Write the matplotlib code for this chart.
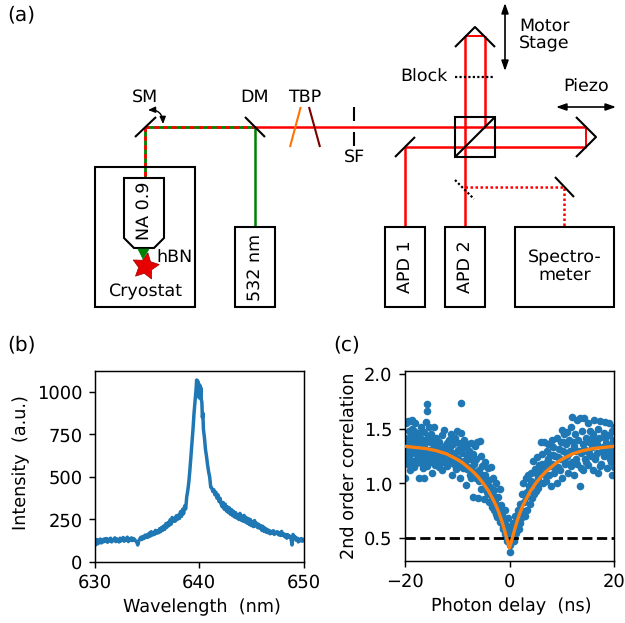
import matplotlib
matplotlib.use("Agg")
import matplotlib.pyplot as plt
from matplotlib.patches import Polygon, Rectangle, FancyArrowPatch

W, H = 625, 623
# ---------- panel (b) data
wl_left = [630.0,630.1,630.2,630.3,630.4,630.5,630.6,630.7,630.8,630.9,
631.0,631.1,631.2,631.3,631.4,631.5,631.6,631.7,631.8,631.9,
632.0,632.1,632.2,632.3,632.4,632.5,632.6,632.7,632.8,632.9,
633.0,633.1,633.2,633.3,633.4,633.5,633.6,633.7,633.8,633.9,
634.0,634.1,634.2,634.3,634.4,634.5,634.6,634.7,634.8,634.9,
635.0,635.1,635.2,635.3,635.4,635.5,635.6,635.7,635.8,635.9,
636.0,636.1,636.2,636.3,636.4,636.5,636.6,636.7,636.8,636.9,
637.0,637.1,637.2,637.3,637.4,637.5,637.6,637.7,637.8,637.9,
638.0,638.1,638.2,638.3,638.4,638.5,638.6,638.7,638.8,638.9,
639.0,639.1,639.2,639.3,639.4,639.5,639.6,639.7,639.75,639.8]
int_left = [128,102,132,108,125,135,112,130,118,136,
122,138,116,134,124,140,118,132,126,142,
120,136,128,118,140,124,134,144,122,138,
130,146,120,136,128,142,126,138,132,124,
118,100,124,136,146,132,150,138,158,144,
160,146,170,152,178,158,174,162,186,168,
184,172,196,178,204,186,212,192,226,204,
232,214,248,222,262,238,256,240,272,250,
276,256,296,268,310,284,330,312,384,420,
470,540,620,700,780,876,950,1020,1070,1030]
wl_right = [639.85,639.9,639.95,640.0,640.05,640.1,640.15,640.2,640.25,640.3,
640.35,640.4,640.5,640.6,640.7,640.8,640.9,641.0,641.1,641.2,
641.3,641.4,641.5,641.6,641.7,641.8,641.9,642.0,642.1,642.2,
642.3,642.4,642.5,642.6,642.7,642.8,642.9,643.0,643.1,643.2,
643.3,643.4,643.5,643.6,643.7,643.8,643.9,644.0,644.1,644.2,
644.3,644.4,644.5,644.6,644.7,644.8,644.9,645.0,645.1,645.2,
645.3,645.4,645.5,645.6,645.7,645.8,645.9,646.0,646.1,646.2,
646.3,646.4,646.5,646.6,646.7,646.8,646.9,647.0,647.1,647.2,
647.3,647.4,647.5,647.6,647.7,647.8,647.9,648.0,648.1,648.2,
648.3,648.4,648.5,648.6,648.7,648.8,648.9,649.0,649.1,649.2,
649.3,649.4,649.5,649.6,649.7,649.8,649.9,650.0]
int_right = [1065,985,1045,965,1040,975,1025,955,940,850,
875,780,730,660,620,570,530,500,440,435,
415,425,395,410,375,395,355,375,340,325,
350,310,340,300,325,290,318,280,308,272,
298,264,290,258,278,250,286,246,270,240,
274,236,262,228,256,220,250,214,238,208,
244,212,228,202,222,198,214,186,210,180,
200,176,192,172,186,166,180,170,184,162,
176,168,178,160,172,156,180,158,166,148,
162,140,160,146,152,138,100,162,142,148,
128,140,118,134,124,138,122,130]

# ---------- panel (c) data
delay = [
-20,-20,-20,-20,-19.8,-19.7,-19.6,-19.5,-19.5,-19.4,
-19.3,-19.2,-19.1,-19,-19,-18.9,-18.8,-18.7,-18.7,-18.6,
-18.5,-18.4,-18.3,-18.2,-18.1,-18,-18,-17.9,-17.8,-17.7,
-17.6,-17.5,-17.4,-17.3,-17.2,-17.1,-17,-17,-16.9,-16.8,
-16.7,-16.6,-16.5,-16.4,-16.4,-16.3,-16.2,-16.1,-16,-15.9,
-15.8,-15.8,-15.7,-15.6,-15.5,-15.4,-15.3,-15.2,-15.1,-15,
-14.9,-14.8,-14.7,-14.6,-14.5,-14.4,-14.3,-14.2,-14.1,-14,
-13.8,-13.6,-13.5,-13.4,-13.2,-13,-12.9,-12.8,-12.6,-12.5,
-12.4,-12.2,-12,-11.9,-11.8,-11.6,-11.4,-11.3,-11.2,-11,
-10.9,-10.8,-10.6,-10.5,-10.4,-10.2,-10,-9.9,-9.8,-9.6,
-9.5,-9.3,-9.2,-9,-8.9,-8.8,-8.6,-8.5,-8.4,-8.2,
-8,-7.9,-7.8,-7.6,-7.5,-7.4,-7.2,-7,-6.9,-6.8,
-6.6,-6.5,-6.4,-6.2,-6,-5.8,-5.6,-5.5,-5.4,-5.2,
-5,-4.8,-4.7,-4.6,-4.4,-4.2,-4,-3.9,-3.8,-3.6,
-3.4,-3.2,-3,-2.9,-2.8,-2.6,-2.4,-2.2,-2,-1.9,
-1.8,-1.6,-1.4,-1.2,-1,-0.9,-0.8,-0.6,-0.4,-0.3,
-0.2,0,0,0.2,0.3,0.4,0.6,0.8,1,1.1,
1.2,1.4,1.6,1.8,2,2.2,2.4,2.5,2.6,2.8,
3,3.1,3.2,3.4,3.6,3.8,4,4.2,4.4,4.5,
4.6,4.8,5,5.2,5.4,5.5,5.6,5.8,6,6.1,
6.2,6.4,6.6,6.8,7,7.1,7.2,7.4,7.6,7.8,
8,8.1,8.2,8.4,8.6,8.8,9,9.1,9.2,9.4,
9.6,9.8,10,10.1,10.2,10.4,10.6,10.8,11,11.1,
11.2,11.4,11.6,11.8,12,12,12.2,12.4,12.6,12.8,
13,13,13.2,13.4,13.5,13.6,13.8,14,14,14.2,
14.4,14.6,14.8,15,15,15.2,15.4,15.6,15.8,16,
16,16.2,16.4,16.6,16.8,17,17,17.2,17.4,17.6,
17.8,18,18,18.2,18.4,18.6,18.8,19,19,19.2,
19.4,19.5,19.6,19.7,19.8,19.9,19.95,20,20,20,
# denser cloud
-19.9,-19.2,-18.6,-18.2,-17.5,-16.9,-16.2,-15.5,-14.8,-14.3,
-13.7,-13.1,-12.7,-12.1,-11.5,-11,-10.3,-9.7,-9.1,-8.7,
-8.1,-7.7,-7.3,-6.7,-6.3,-5.9,-5.3,-4.9,-4.5,-4.1,
-3.7,-3.3,-2.7,-2.5,-2.1,-1.7,-1.3,-1.1,-0.7,-0.5,
0.5,0.7,0.9,1.3,1.5,1.7,2.1,2.7,3.3,3.7,
4.1,4.7,5.1,5.7,6.3,6.7,7.3,7.7,8.3,8.7,
9.3,9.7,10.3,10.7,11.3,11.7,12.3,12.7,13.3,13.7,
14.3,14.7,15.3,15.7,16.3,16.7,17.3,17.7,18.3,18.7]
g2 = [
1.05,1.20,1.30,1.42,1.55,1.37,1.27,1.57,1.41,1.18,
1.48,1.33,1.57,1.38,1.12,1.45,1.28,1.50,1.35,1.58,
1.21,1.42,1.30,1.48,1.36,1.55,1.18,1.27,1.43,1.33,
1.46,1.22,1.38,1.05,1.30,1.42,1.19,1.52,1.28,1.35,
1.25,1.40,1.14,1.33,1.47,1.05,1.22,1.38,1.56,1.29,
1.66,1.73,1.16,1.43,1.31,1.52,1.25,1.38,1.20,1.45,
1.10,1.30,1.40,1.24,1.34,1.52,1.18,1.37,1.28,1.42,
1.22,1.33,1.15,1.38,1.27,1.12,1.44,1.30,1.20,1.49,
1.34,1.25,1.37,1.16,1.29,1.40,1.22,1.33,1.45,1.08,
1.26,1.36,1.18,1.42,1.28,1.13,1.48,1.31,1.22,1.37,
1.05,1.74,1.46,1.28,1.14,1.40,1.20,1.33,0.99,1.25,
1.36,1.15,1.30,1.08,1.22,1.37,1.12,1.27,0.88,1.18,
1.34,1.05,1.22,1.38,0.87,1.12,1.39,1.25,0.95,1.16,
1.03,0.86,1.20,1.08,0.92,1.14,0.83,1.03,0.97,1.15,
0.88,1.05,0.76,0.94,0.83,1.00,0.69,0.88,0.78,0.95,
0.65,0.80,0.71,0.58,0.66,0.76,0.54,0.62,0.47,0.68,
0.55,0.44,0.37,0.60,0.46,0.55,0.64,0.47,0.59,0.70,
0.55,0.63,0.72,0.58,0.81,0.68,0.90,0.75,1.00,0.83,
0.70,1.05,0.88,0.76,1.08,0.94,0.81,1.10,0.87,1.21,
1.00,1.13,0.93,1.24,1.05,0.96,1.17,1.00,1.38,1.10,
1.27,1.00,1.38,1.15,1.02,1.30,1.20,1.36,1.08,1.26,
0.98,1.40,1.18,1.33,1.10,1.25,1.00,1.42,1.15,1.32,
1.22,1.38,1.49,1.05,1.30,1.45,1.18,1.36,1.47,1.25,
1.10,1.40,1.30,1.52,1.61,1.20,1.38,1.08,1.45,1.30,
1.58,1.18,1.40,1.60,0.98,1.28,1.48,1.12,1.36,1.60,
1.22,1.42,1.30,1.55,1.17,1.38,1.48,1.25,1.33,1.12,
1.45,1.58,1.22,1.38,1.28,1.50,1.10,1.42,1.57,1.18,
1.33,1.46,1.25,1.56,1.37,1.14,1.30,1.44,1.55,1.22,
1.35,1.20,1.08,1.48,1.27,1.40,1.15,1.52,1.08,1.30,
1.33,1.24,1.40,1.15,1.26,1.35,1.20,1.30,1.25,1.17,
1.30,1.20,1.25,1.34,1.19,1.28,1.23,1.16,1.33,1.21,
1.13,1.27,1.05,1.20,1.10,1.02,1.08,0.96,1.00,0.90,
0.92,0.78,0.88,0.72,0.74,0.70,0.60,0.62,0.56,0.50,
0.52,0.62,0.50,0.64,0.60,0.76,0.64,0.90,0.92,0.98,
1.02,0.90,1.10,1.12,1.18,1.08,1.22,1.16,1.26,1.14,
1.24,1.12,1.38,1.20,1.28,1.16,1.34,1.22,1.30,1.14,
1.32,1.20,1.28,1.42,1.24,1.36,1.16,1.30,1.42,1.26]
fit_t = [-20,-18,-16,-14,-12,-10,-9,-8,-7,-6,-5,-4,-3,-2.5,-2,-1.5,-1,-0.6,-0.3,0,0.3,0.6,1,1.5,2,2.5,3,4,5,6,7,8,9,10,12,14,16,18,20]
fit_g = [1.34,1.33,1.32,1.30,1.27,1.22,1.19,1.15,1.11,1.06,1.00,0.93,0.84,0.79,0.73,0.66,0.58,0.51,0.46,0.41,0.46,0.51,0.58,0.66,0.73,0.79,0.84,0.93,1.00,1.06,1.11,1.15,1.19,1.22,1.27,1.30,1.32,1.33,1.34]

# ---------- schematic labels
box_labels = ["NA 0.9", "532 nm", "APD 1", "APD 2", "Spectro-\nmeter", "Cryostat"]

BLUE, ORANGE = "#1f77b4", "#ff7f0e"
FS = 12.85
plt.rcParams.update({"font.family": "DejaVu Sans", "font.size": FS,
                     "axes.linewidth": 1.05, "text.hinting": "no_hinting",
                     "xtick.major.size": 4.5, "ytick.major.size": 4.5,
                     "xtick.major.width": 1.05, "ytick.major.width": 1.05,
                     "xtick.major.pad": 4.5, "ytick.major.pad": 4.5})
fig = plt.figure(figsize=(W/100, H/100), dpi=100)

def axrect(l, t, r, b):
    return [l/W, 1-b/H, (r-l)/W, (b-t)/H]

# ---------- schematic (pixel coordinates)
a = fig.add_axes([0, 0, 1, 1])
a.set_xlim(0, W); a.set_ylim(H, 0); a.axis("off")

def ln(xs, ys, c="k", lw=1.6, **k):
    a.plot(xs, ys, color=c, lw=lw, solid_capstyle="butt", **k)

R, G = "#ff0000", "#008000"
# beams
ln([145, 145], [127, 178], G, 2); ln([145, 255], [127, 127], G, 2)
ln([145, 145], [127, 178], R, 2, ls=(0, (1.6, 1.6)))
ln([145, 255], [127, 127], R, 2, ls=(0, (1.6, 1.6)))
ln([255, 255], [127, 227], G, 1.8)
ln([255, 586], [127, 127], R, 1.8)
ln([405, 586], [147, 147], R, 1.8)
ln([586, 586], [127, 147], R, 1.4)
ln([405, 405], [147, 227], R, 1.8)
ln([465, 465], [36, 227], R, 1.8)
ln([485, 485], [36, 127], R, 1.8)
ln([465, 485], [36, 36], R, 1.4)
ln([465, 564, 564], [187, 187, 227], R, 1.8, ls=(0, (1, 1)))
# mirrors and optics
for xs, ys in [([135, 156], [137, 117]), ([245, 265], [117, 137]),
               ([455, 475, 495], [47, 27, 47]), ([576, 596, 576], [117, 137, 157]),
               ([395, 415], [157, 137]), ([555, 574], [177, 197]),
               ([354, 354], [107, 121]), ([354, 354], [132, 146])]:
    ln(xs, ys, "k", 1.5)
ln([455, 474], [180, 199], "k", 1.6, ls=(0, (1, 1)))
ln([455, 493], [77, 77], "k", 1.6, ls=(0, (1, 1)))
ln([300.7, 290], [107, 147], "#ff7300", 1.5)
ln([309, 320], [107, 147], "#7a0000", 1.5)
# boxes
for x, y, w, h in [(95, 167, 100, 140), (235, 227, 40, 80), (385, 227, 40, 80),
                   (445, 227, 40, 80), (515, 227, 99, 80), (455, 117, 40, 40)]:
    a.add_patch(Rectangle((x, y), w, h, fc="none", ec="k", lw=1.5, zorder=3))
ln([455, 495], [157, 117], "k", 1.5, zorder=4)
# objective, focus, emitter
a.add_patch(Polygon([(138, 249), (149, 249), (143, 259)], fc=G, ec=G, lw=0.5, zorder=4))
a.add_patch(Polygon([(124, 178), (164, 178), (164, 238), (154, 248), (134, 248), (124, 238)],
                    fc="none", ec="k", lw=1.5, zorder=3))
a.plot([144.5], [266], marker=(5, 1, -10), ms=20, mfc="#e60000", mec="#a00000", mew=0.5, zorder=2)
# arrows
for p, q in [((505, 3), (505, 71)), ((556, 107), (616, 107))]:
    a.add_patch(FancyArrowPatch(p, q, arrowstyle="<|-|>,head_length=2,head_width=0.7", color="k",
                                lw=1.2, shrinkA=0, shrinkB=0, mutation_scale=3))
a.add_patch(FancyArrowPatch((148, 110), (163, 124), connectionstyle="arc3,rad=-0.5",
                            arrowstyle="<|-|>,head_length=1.4,head_width=0.6", color="k",
                            lw=1.0, shrinkA=0, shrinkB=0, mutation_scale=3))
# texts
def tx(x, y, s, rot=0, ha="center", va="center", fs=12.6):
    a.text(x, y, s, rotation=rot, ha=ha, va=va, fontsize=fs, zorder=5, linespacing=1.15)
tx(145, 97, "SM"); tx(255, 97, "DM"); tx(305, 97, "TBP")
tx(354, 157, "SF"); tx(424, 77, "Block"); tx(586, 87, "Piezo")
tx(519, 35, "Motor\nStage", ha="left")
tx(175, 257, "hBN"); tx(145, 292, box_labels[5])
tx(144, 211, box_labels[0], rot=90); tx(255, 267, box_labels[1], rot=90)
tx(405, 267, box_labels[2], rot=90); tx(465, 267, box_labels[3], rot=90)
tx(565, 267, box_labels[4])
tx(7, 15, "(a)", ha="left", fs=14.5); tx(7, 345, "(b)", ha="left", fs=14.5)
tx(333, 345, "(c)", ha="left", fs=14.5)

# ---------- panel (b)
b = fig.add_axes(axrect(95, 371, 303.5, 562))
b.plot(wl_left + wl_right, int_left + int_right, color=BLUE, lw=2.5)
b.set_xlim(630, 650); b.set_ylim(0, 1123)
b.set_xticks([630, 640, 650]); b.set_yticks([0, 250, 500, 750, 1000])
b.set_xlabel("Wavelength  (nm)", fontsize=12.7, labelpad=5, x=0.515)
b.set_ylabel("Intensity  (a.u.)", fontsize=12.7, labelpad=5, y=0.52)

# ---------- panel (c)
c = fig.add_axes(axrect(405, 371, 614, 561))
c.scatter(delay, g2, s=30, color=BLUE, lw=0)
c.axhline(0.5, color="k", lw=2, ls="--", zorder=3)
c.plot(fit_t, fit_g, color=ORANGE, lw=2.4, zorder=4)
c.set_xlim(-20, 20); c.set_ylim(0.29, 2.03)
c.set_xticks([-20, 0, 20]); c.set_yticks([0.5, 1.0, 1.5, 2.0])
c.set_xlabel("Photon delay  (ns)", fontsize=12.7, labelpad=5, x=0.51)
c.set_ylabel("2nd order correlation", fontsize=12.7, labelpad=5)

fig.savefig("out.png", dpi=100)
